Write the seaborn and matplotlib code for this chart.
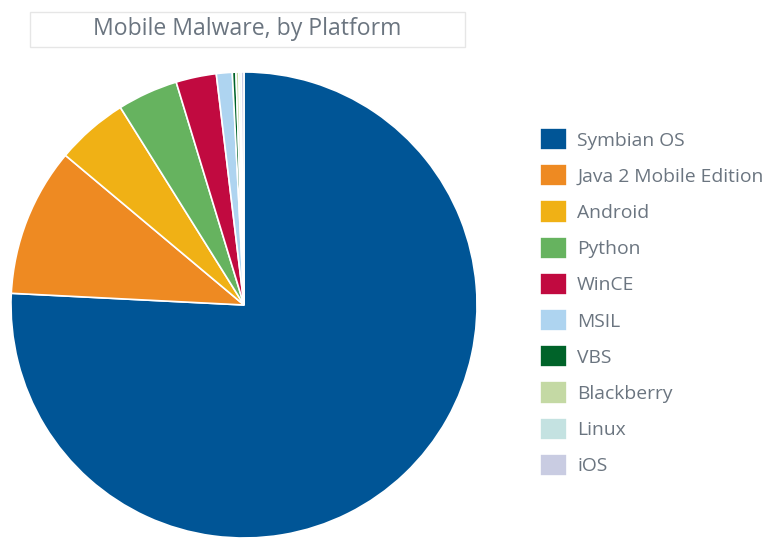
import matplotlib
matplotlib.use("Agg")
import matplotlib.pyplot as plt
import seaborn as sns
from matplotlib.patches import Rectangle

platforms = ["Symbian OS", "Java 2 Mobile Edition", "Android", "Python", "WinCE",
             "MSIL", "VBS", "Blackberry", "Linux", "iOS"]
shares = [75.8, 10.3, 5.0, 4.2, 2.8, 1.1, 0.25, 0.2, 0.15, 0.2]
colors = ["#005596", "#EE8A22", "#F0B115", "#66B35F", "#C10A40",
          "#AED4F0", "#006329", "#C4D9A4", "#C4E2E1", "#C9CCE2"]

sns.set_theme(style="white")
plt.rcParams['font.family'] = ['Open Sans', 'DejaVu Sans']
palette = sns.color_palette(colors)

W, H = 766, 538
fig = plt.figure(figsize=(W / 100, H / 100), dpi=100)
fig.patch.set_facecolor("white")

cx, cy, r = 244, 305, 233
ax = fig.add_axes([(cx - r) / W, (H - cy - r) / H, 2 * r / W, 2 * r / H])
wedges, _ = ax.pie(shares, colors=palette, startangle=90, counterclock=False,
                   wedgeprops=dict(edgecolor="white", linewidth=1.2))
ax.set_xlim(-1, 1)
ax.set_ylim(-1, 1)
ax.set_aspect("equal")
ax.axis("off")

# Title box
x0, x1, y0, y1 = 30, 465, 12, 47
fig.patches.append(Rectangle((x0 / W, 1 - y1 / H), (x1 - x0) / W, (y1 - y0) / H,
                             transform=fig.transFigure, facecolor="white",
                             edgecolor="#E6E6E6", linewidth=1.0))
fig.text((x0 + x1) / 2 / W, 1 - 29 / H, "Mobile Malware, by Platform",
         ha="center", va="center", fontsize=16.6, color="#6B7580")

leg = fig.legend(wedges, platforms, loc="upper left",
                 bbox_to_anchor=(540 / W, 1 - 128 / H), frameon=False,
                 fontsize=13.9, labelcolor="#6B7580", handlelength=1.42,
                 handleheight=1.4, handletextpad=0.5, labelspacing=0.72,
                 borderpad=0, borderaxespad=0)

fig.savefig("out.png", dpi=100, facecolor="white")
